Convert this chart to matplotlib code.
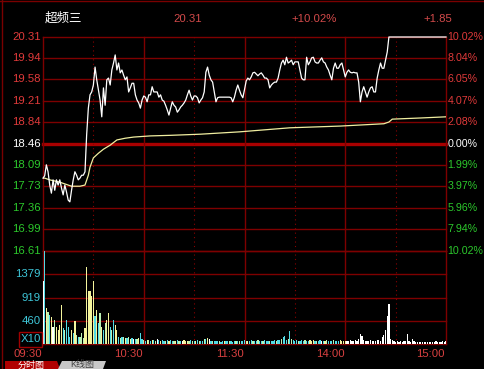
import matplotlib
matplotlib.use('Agg')
import matplotlib.pyplot as plt
from matplotlib.patches import Rectangle, Polygon

# ---------------- data ----------------
stock_name = "超频三"
last_price = "20.31"
change_pct = "+10.02%"
change_abs = "+1.85"

price_levels = [20.31, 19.94, 19.58, 19.21, 18.84, 18.46, 18.09, 17.73, 17.36, 16.99, 16.61]
pct_labels = ['10.02%', '8.04%', '6.05%', '4.07%', '2.08%', '0.00%',
              '1.99%', '3.97%', '5.96%', '7.94%', '10.02%']
prev_close = 18.46
vol_levels = [1379, 919, 460]
vol_top = 1839
time_labels = ['09:30', '10:30', '11:30', '14:00', '15:00']
time_pos = [0, 60, 120, 180, 240]
half_pos = [30, 90, 150, 210]
tab_labels = ['分时图', 'K线图']

price = [
    17.87, 17.91, 18.10, 17.98, 17.75, 17.61, 17.84, 17.66, 17.84, 17.75,
    17.84, 17.70, 17.58, 17.75, 17.63, 17.49, 17.46, 17.66, 17.84, 17.98,
    17.92, 17.84, 17.87, 17.92, 17.92, 17.98, 18.62, 19.08, 19.31, 19.36,
    19.48, 19.79, 19.57, 19.39, 19.22, 18.93, 19.43, 19.13, 19.57, 19.60,
    19.48, 19.74, 19.86, 20.00, 19.74, 19.86, 19.69, 19.74, 19.65, 19.57,
    19.62, 19.36, 19.43, 19.51, 19.51, 19.31, 19.22, 19.17, 19.08, 19.22,
    19.29, 19.27, 19.19, 19.31, 19.31, 19.45, 19.36, 19.36, 19.36, 19.27,
    19.31, 19.22, 19.20, 19.13, 19.05, 18.96, 19.08, 19.19, 19.13, 19.10,
    19.01, 19.05, 19.10, 19.13, 19.17, 19.22, 19.31, 19.39, 19.29, 19.22,
    19.29, 19.29, 19.26, 19.17, 19.22, 19.26, 19.36, 19.70, 19.79, 19.65,
    19.57, 19.53, 19.36, 19.19, 19.26, 19.27, 19.27, 19.27, 19.27, 19.27,
    19.27, 19.27, 19.26, 19.19, 19.27, 19.39, 19.48, 19.39, 19.31, 19.26,
    19.40, 19.55, 19.60, 19.57, 19.62, 19.69, 19.70, 19.67, 19.64, 19.67,
    19.69, 19.65, 19.60, 19.60, 19.57, 19.43, 19.48, 19.51, 19.53, 19.53,
    19.60, 19.74, 19.86, 19.91, 19.83, 19.96, 19.86, 19.88, 19.91, 19.83,
    19.88, 19.88, 19.88, 19.74, 19.60, 19.57, 19.57, 19.96, 19.83, 19.88,
    19.95, 19.96, 19.88, 19.86, 19.86, 19.91, 19.95, 19.88, 19.86, 19.79,
    19.74, 19.65, 19.57, 19.77, 19.86, 19.77, 19.77, 19.83, 19.86, 19.74,
    19.62, 19.70, 19.74, 19.70, 19.69, 19.70, 19.69, 19.69, 19.53, 19.19,
    19.36, 19.45, 19.36, 19.27, 19.36, 19.43, 19.45, 19.36, 19.36, 19.60,
    19.74, 19.86, 19.77, 19.77, 19.91, 20.05, 20.31, 20.31, 20.31, 20.31,
    20.31, 20.31, 20.31, 20.31, 20.31, 20.31, 20.31, 20.31, 20.31, 20.31,
    20.31, 20.31, 20.31, 20.31, 20.31, 20.31, 20.31, 20.31, 20.31, 20.31,
    20.31, 20.31, 20.31, 20.31, 20.31, 20.31, 20.31, 20.31, 20.31, 20.31,
    20.31,
]

avg_minutes = [0, 1, 4, 10, 17, 22, 25, 27, 28, 30, 33, 36, 40, 44, 49, 54,
               64, 76, 94, 117, 147, 177, 203, 206, 208, 225, 240]
avg_values = [17.87, 17.87, 17.84, 17.80, 17.73, 17.73, 17.75, 17.92, 18.06, 18.22,
              18.30, 18.37, 18.44, 18.53, 18.56, 18.58, 18.60, 18.61, 18.63, 18.67,
              18.74, 18.77, 18.81, 18.84, 18.89, 18.91, 18.93]

volume = [
    1246, 1880, 720, 626, 580, 540, 346, 466, 346, 280,
    380, 780, 320, 280, 480, 346, 146, 280, 220, 446,
    180, 146, 146, 220, 120, 320, 1520, 1046, 1046, 946,
    1246, 546, 680, 420, 620, 346, 280, 420, 480, 620,
    346, 280, 480, 380, 280, 146, 120, 146, 146, 120,
    110, 130, 90, 110, 90, 100, 90, 110, 213, 100,
    70, 60, 80, 70, 60, 70, 80, 60, 100, 70,
    60, 70, 60, 50, 70, 60, 70, 60, 50, 60,
    70, 60, 50, 60, 70, 60, 50, 60, 70, 60,
    50, 60, 70, 60, 50, 60, 100, 90, 110, 90,
    60, 50, 60, 50, 60, 50, 40, 50, 60, 50,
    50, 60, 50, 40, 60, 50, 60, 50, 60, 50,
    70, 60, 50, 60, 70, 60, 50, 60, 70, 60,
    50, 60, 70, 60, 50, 60, 50, 60, 70, 60,
    70, 80, 90, 146, 150, 70, 90, 266, 90, 70,
    60, 70, 60, 50, 70, 60, 70, 60, 50, 70,
    60, 70, 60, 50, 60, 70, 60, 50, 60, 70,
    60, 50, 60, 70, 60, 50, 60, 70, 60, 50,
    60, 50, 60, 70, 60, 50, 70, 60, 90, 193,
    160, 70, 60, 50, 60, 70, 60, 50, 60, 70,
    70, 60, 146, 180, 280, 546, 800, 100, 80, 60,
    40, 50, 40, 60, 40, 50, 60, 193, 60, 40,
    100, 50, 40, 30, 40, 30, 40, 30, 40, 30,
    30, 40, 30, 40, 60, 30, 40, 30, 60, 40, 60,
]

# bar colour codes (w white, y yellow, c cyan, g light green)
bar_codes = ("wcygcywgyyyycgcccycygcgggyyyyyycycgycgyycgcyycgcgy"
             "cgycwcgyccgcygcycgwcyccgcyccgycgcwyyygcgcycgccgcyw"
             "cgcccgccyccgcccgcgcccgyccgccgccgcccgcccgccgcccgcgc"
             "ccgcccgccyyycgccwcygcccgcccyyyywwwwwwwwwwwwwwwwwww"
             "wwwwwwwwwwwwwwwwwwwwwwwwwwwwwwwwwwwwwwwwwwww")
palette = {'w': '#ffffff', 'y': '#f4f49c', 'c': '#52dae4', 'g': '#bcf2b4'}

# ---------------- figure ----------------
W, H = 485, 369
plt.rcParams['font.family'] = ['Liberation Sans', 'Noto Sans CJK SC', 'DejaVu Sans']
fig = plt.figure(figsize=(W / 100, H / 100), dpi=100, facecolor='black')

def fx(x):
    return x / W

def fy(y):
    return 1 - y / H

L, R, T, M, B = 43, 446, 37, 251, 344
axp = fig.add_axes([fx(L), fy(M), (R - L) / W, (M - T) / H])
axv = fig.add_axes([fx(L), fy(B), (R - L) / W, (B - M) / H])
for ax in (axp, axv):
    ax.set_facecolor('black')
    ax.set_xlim(0, 240)
    ax.axis('off')
axp.set_ylim(price_levels[-1], price_levels[0])
axv.set_ylim(0, vol_top)

grid = '#7e0000'
for p in price_levels:
    if p == prev_close:
        axp.axhline(p, color='#a80000', lw=2.4, clip_on=False, zorder=1)
    else:
        axp.axhline(p, color=grid, lw=1.0, clip_on=False, zorder=1)
for v in vol_levels + [vol_top]:
    axv.axhline(v, color=grid, lw=1.0, clip_on=False, zorder=1)
axv.axhline(0, color=grid, lw=1.0, clip_on=False, zorder=1)
for ax in (axp, axv):
    for t in time_pos:
        ax.axvline(t, color=grid, lw=1.0, clip_on=False, zorder=1)
    for t in half_pos:
        ax.axvline(t, color='#8a0000', lw=0.8, ls=(0, (1, 3)), clip_on=False, zorder=1)

# volume bars
minutes = list(range(len(volume)))
codes = (bar_codes + 'w' * 300)[:len(volume)]
axv.bar(minutes, volume, width=0.72, color=[palette[c] for c in codes],
        linewidth=0, zorder=3)

# price & average
axp.plot(list(range(len(price))), price, color='white', lw=0.9, zorder=4, clip_on=False)
axp.plot(avg_minutes, avg_values, color='#f0eea0', lw=0.9, zorder=3)

# ---------------- texts ----------------
red = '#e03a3a'
green = '#2cc82c'
fs = 8.2
fs_r = 7.7
for p, lab in zip(price_levels, pct_labels):
    if p > prev_close:
        c = red
    elif p == prev_close:
        c = 'white'
    else:
        c = green
    yy = fy(T + (price_levels[0] - p) / (price_levels[0] - price_levels[-1]) * (M - T))
    fig.text(fx(41), yy, f"{p:.2f}", color=c, fontsize=fs, ha='right', va='center')
    fig.text(fx(447.5), yy, lab, color=c, fontsize=fs_r, ha='left', va='center')

cyan = '#3ec6d8'
for v in vol_levels:
    yy = fy(B - v / vol_top * (B - M))
    fig.text(fx(41), yy, str(v), color=cyan, fontsize=fs, ha='right', va='center')
fig.text(fx(30.5), fy(339.5), 'X10', color=cyan, fontsize=fs, ha='center', va='center')
fig.patches.append(Rectangle((fx(19), fy(347)), 23 / W, 15 / H, transform=fig.transFigure,
                             fill=False, edgecolor='#a00000', lw=1.0))

for t, lab in zip(time_pos, time_labels):
    xx = L + t / 240 * (R - L)
    fig.text(fx(xx - 1), fy(354), lab, color='#d84040', fontsize=fs, ha='right', va='center')

# title row
fig.text(fx(45), fy(18), stock_name, color='white', fontsize=9, ha='left', va='center')
tc = '#d24a4a'
fig.text(fx(188), fy(19), last_price, color=tc, fontsize=fs, ha='center', va='center')
fig.text(fx(314), fy(19), change_pct, color=tc, fontsize=fs, ha='center', va='center')
fig.text(fx(438), fy(19), change_abs, color=tc, fontsize=fs, ha='center', va='center')

# outer frame
fig.lines.append(plt.Line2D([fx(2), fx(2)], [fy(0), fy(369)], transform=fig.transFigure,
                            color='#7a0000', lw=1.0))
fig.lines.append(plt.Line2D([fx(0), fx(485)], [fy(1), fy(1)], transform=fig.transFigure,
                            color='#7a0000', lw=1.0))

# bottom tabs
fig.patches.append(Polygon([(fx(5), fy(369)), (fx(5), fy(361)), (fx(57), fy(361)),
                            (fx(60), fy(369))], closed=True, transform=fig.transFigure,
                           facecolor='#b00000', edgecolor='none'))
fig.patches.append(Polygon([(fx(58), fy(369)), (fx(62), fy(361)), (fx(106), fy(361)),
                            (fx(103), fy(369))], closed=True, transform=fig.transFigure,
                           facecolor='#c8c8c8', edgecolor='none'))
fig.text(fx(31), fy(365), tab_labels[0], color='white', fontsize=6.5, ha='center', va='center')
fig.text(fx(82), fy(365), tab_labels[1], color='#404040', fontsize=6.5, ha='center', va='center')

fig.savefig('out.png', dpi=100, facecolor='black')
